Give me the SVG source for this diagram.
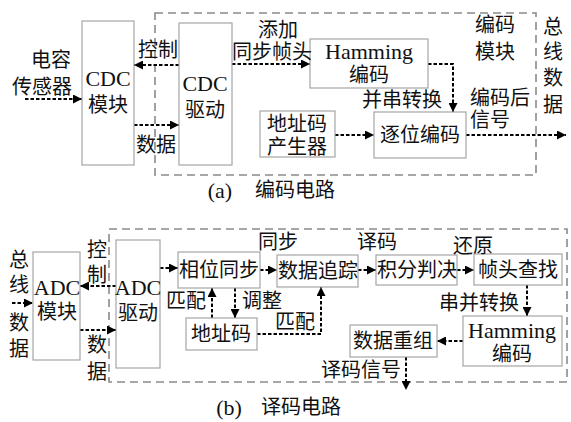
<svg xmlns="http://www.w3.org/2000/svg" width="571" height="422" viewBox="0 0 571 422">
<defs>
<marker id="ah" viewBox="0 0 10 10" refX="10" refY="5" markerWidth="10" markerHeight="9" markerUnits="userSpaceOnUse" orient="auto"><path d="M0,0 L10,5 L0,10 z" fill="#000"/></marker>
</defs>
<style>
.bx{fill:#fff;stroke:#a6a6a6;stroke-width:1.2}
.frame{fill:none;stroke:#8a8a8a;stroke-width:1.6;stroke-dasharray:8,5}
.ar{fill:none;stroke:#000;stroke-width:2;stroke-dasharray:3.5,2;marker-end:url(#ah)}
text{font-family:"Liberation Serif","Noto Sans CJK SC",serif;font-size:20px;fill:#111;text-anchor:middle;dominant-baseline:central}
.lat{font-size:22px}
</style>
<rect width="571" height="422" fill="#fff"/>
<rect class="frame" x="155" y="13" width="381" height="162"/>
<rect class="frame" x="109" y="229" width="458" height="153"/>

<g id="connectors">
<path class="ar" d="M25,99 H82"/>
<path class="ar" d="M179,65 H134"/>
<path class="ar" d="M134,125 H179"/>
<path class="ar" d="M232,64 H310"/>
<path class="ar" d="M428,64 H453 V112"/>
<path class="ar" d="M335,135 H374"/>
<path class="ar" d="M466,135 H566"/>
<path class="ar" d="M12,303 H33"/>
<path class="ar" d="M116,286 H80"/>
<path class="ar" d="M80,330 H116"/>
<path class="ar" d="M160,268 H178"/>
<path class="ar" d="M260,270 H277"/>
<path class="ar" d="M358,270 H376"/>
<path class="ar" d="M457,270 H474"/>
<path class="ar" d="M527,285 V316"/>
<path class="ar" d="M463,341 H437"/>
<path class="ar" d="M406,357 V390"/>
<path class="ar" d="M212,318 V288"/>
<path class="ar" d="M235,288 V318"/>
<path class="ar" d="M257,334 H321 V287"/>
</g>

<g id="cdc-module"><rect class="bx" x="82" y="21" width="52" height="144"/><text class="lat" x="108" y="78">CDC</text><text x="108" y="105">模块</text></g>
<g id="cdc-driver"><rect class="bx" x="179" y="23" width="53" height="142"/><text class="lat" x="205" y="83">CDC</text><text x="205" y="110">驱动</text></g>
<g id="hamming-a"><rect class="bx" x="310" y="39" width="118" height="49"/><text class="lat" x="369" y="51">Hamming</text><text x="369" y="75">编码</text></g>
<g id="addr-gen"><rect class="bx" x="260" y="111" width="75" height="46"/><text x="297" y="124">地址码</text><text x="297" y="147">产生器</text></g>
<g id="bit-encode"><rect class="bx" x="374" y="112" width="92" height="46"/><text x="420" y="135">逐位编码</text></g>

<g id="labels-a">
<text x="51" y="60">电容</text><text x="42" y="87">传感器</text>
<text x="158" y="50">控制</text><text x="156" y="145">数据</text>
<text x="278" y="30">添加</text><text x="272" y="52">同步帧头</text>
<text x="495" y="25">编码</text><text x="495" y="52">模块</text>
<text x="402" y="100">并串转换</text>
<text x="500" y="98">编码后</text><text x="490" y="120">信号</text>
<text x="553" y="27">总</text><text x="553" y="52">线</text><text x="553" y="78">数</text><text x="553" y="105">据</text>
<text class="lat" x="220" y="190">(a)</text><text x="295" y="190">编码电路</text>
</g>

<g id="adc-module"><rect class="bx" x="33" y="252" width="47" height="108"/><text class="lat" x="57" y="287">ADC</text><text x="57" y="312">模块</text></g>
<g id="adc-driver"><rect class="bx" x="116" y="240" width="44" height="128"/><text class="lat" x="138" y="287">ADC</text><text x="138" y="313">驱动</text></g>
<g id="phase-sync"><rect class="bx" x="178" y="252" width="82" height="36"/><text x="219" y="270">相位同步</text></g>
<g id="data-track"><rect class="bx" x="277" y="255" width="81" height="32"/><text x="318" y="271">数据追踪</text></g>
<g id="integrate"><rect class="bx" x="376" y="255" width="81" height="30"/><text x="417" y="270">积分判决</text></g>
<g id="frame-find"><rect class="bx" x="474" y="254" width="88" height="31"/><text x="518" y="270">帧头查找</text></g>
<g id="hamming-b"><rect class="bx" x="463" y="316" width="99" height="50"/><text class="lat" x="512" y="330">Hamming</text><text x="512" y="354">编码</text></g>
<g id="regroup"><rect class="bx" x="350" y="325" width="87" height="32"/><text x="393" y="341">数据重组</text></g>
<g id="addr-b"><rect class="bx" x="186" y="318" width="71" height="32"/><text x="221" y="334">地址码</text></g>

<g id="labels-b">
<text x="19" y="260">总</text><text x="19" y="285">线</text><text x="19" y="323">数</text><text x="19" y="349">据</text>
<text x="97" y="250">控</text><text x="97" y="275">制</text>
<text x="97" y="345">数</text><text x="97" y="372">据</text>
<text x="278" y="242">同步</text>
<text x="377" y="242">译码</text>
<text x="473" y="246">还原</text>
<text x="479" y="303">串并转换</text>
<text x="361" y="370">译码信号</text>
<text x="186" y="301">匹配</text>
<text x="262" y="301">调整</text>
<text x="295" y="322">匹配</text>
<text class="lat" x="229" y="407">(b)</text><text x="301" y="407">译码电路</text>
</g>
</svg>
